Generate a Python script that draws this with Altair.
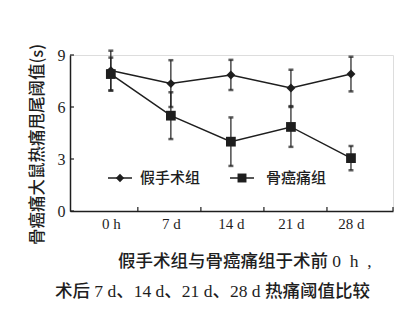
import json
import altair as alt
import pandas as pd

# ---- data ----
times = ["0 h", "7 d", "14 d", "21 d", "28 d"]
groups = ["假手术组", "骨癌痛组"]
shapes = ["diamond", "square"]
sham_mean = [8.1, 7.35, 7.85, 7.1, 7.9]
sham_err = [1.15, 1.35, 0.87, 1.05, 1.0]
cancer_mean = [7.9, 5.5, 4.0, 4.85, 3.05]
cancer_err = [0.95, 1.35, 1.4, 1.15, 0.7]
y_ticks = [0, 3, 6, 9]
x_tick_marks = [0.45, 1.5, 2.55, 3.6, 4.7]
y_title = "骨癌痛大鼠热痛甩尾阈值(s)"
caption_1 = "假手术组与骨癌痛组于术前 0\u2002h\u2002,"
caption_2 = "术后 7 d、14 d、21 d、28 d 热痛阈值比较"

rows = []
for g, means, errs in [(groups[0], sham_mean, sham_err), (groups[1], cancer_mean, cancer_err)]:
    for i, (t, m, e) in enumerate(zip(times, means, errs)):
        rows.append({"idx": i, "time": t, "group": g, "mean": m, "lo": m - e, "hi": m + e})
df = pd.DataFrame(rows)

W, H = 323, 156
INK = "#1e1e1e"
SERIF = "Liberation Serif"
CJK = "Noto Sans CJK SC"
MIXED = "Liberation Serif, Noto Sans CJK SC"

x_scale = alt.Scale(domain=[-0.68, 4.7], nice=False, zero=False)
y_scale = alt.Scale(domain=[0, 9], nice=False)
label_expr = json.dumps(times) + "[datum.value]"

x_enc = alt.X(
    "idx:Q", scale=x_scale,
    axis=alt.Axis(values=list(range(len(times))), labelExpr=label_expr, ticks=False, grid=False,
                  title=None, labelFont=SERIF, labelFontSize=15, labelColor=INK, labelPadding=5,
                  domainColor=INK, domainWidth=1.5, labelFlush=False),
)
y_enc = alt.Y(
    "mean:Q", scale=y_scale,
    axis=alt.Axis(values=y_ticks, ticks=False, grid=False, title=y_title, titleFont=CJK,
                  titleFontSize=16.5, titleFontWeight=500, titleColor=INK, titleAngle=-90,
                  titleX=-33, titleY=H / 2 + 11, titleAlign="center", titleBaseline="middle",
                  labelFont=SERIF, labelFontSize=16, labelColor=INK, labelPadding=5,
                  domainColor=INK, domainWidth=1.5),
)

base = alt.Chart(df)
lines = base.mark_line(color=INK, strokeWidth=1.5).encode(x=x_enc, y=y_enc, detail="group:N")
bars = base.mark_rule(color=INK, strokeWidth=1.2).encode(x="idx:Q", y="lo:Q", y2="hi:Q")
caps_lo = base.mark_tick(color=INK, orient="horizontal", size=5, thickness=2.5).encode(x="idx:Q", y="lo:Q")
caps_hi = base.mark_tick(color=INK, orient="horizontal", size=5, thickness=2.5).encode(x="idx:Q", y="hi:Q")
points = base.mark_point(filled=True, color=INK, opacity=1).encode(
    x="idx:Q", y="mean:Q",
    shape=alt.Shape("group:N", scale=alt.Scale(domain=groups, range=shapes), legend=None),
    size=alt.Size("group:N", scale=alt.Scale(domain=groups, range=[80, 95]), legend=None),
)

# ---- hand-built legend (line + marker + label) ----
legend_layers = []
legend_pos = [(50, 70), (172, 196)]  # (symbol centre x, label start x) in plot pixels
LEG_Y = 123
for g, shp, sz, (sx, lx) in zip(groups, shapes, [70, 80], legend_pos):
    gdf = pd.DataFrame({"group": [g]})
    legend_layers.append(alt.Chart(gdf).mark_rule(color=INK, strokeWidth=1.5).encode(
        x=alt.value(sx - 12), x2=alt.value(sx + 12), y=alt.value(LEG_Y)))
    legend_layers.append(alt.Chart(gdf).mark_point(filled=True, color=INK, opacity=1, shape=shp,
                                                   size=sz).encode(
        x=alt.value(sx), y=alt.value(LEG_Y)))
    legend_layers.append(alt.Chart(gdf).mark_text(font=CJK, fontSize=15, fontWeight=500, color=INK,
                                                  align="left", baseline="middle").encode(
        text="group:N", x=alt.value(lx), y=alt.value(LEG_Y)))

y_tick_df = pd.DataFrame({"v": y_ticks})
y_tick_layer = alt.Chart(y_tick_df).mark_rule(color=INK, strokeWidth=1.2).encode(
    y=alt.Y("v:Q", scale=y_scale), x=alt.value(0), x2=alt.value(4))
x_tick_df = pd.DataFrame({"v": x_tick_marks})
x_tick_layer = alt.Chart(x_tick_df).mark_rule(color=INK, strokeWidth=1.2).encode(
    x=alt.X("v:Q", scale=x_scale), y=alt.value(H), y2=alt.value(H - 4))

cap1 = alt.Chart(pd.DataFrame({"t": [caption_1]})).mark_text(
    font=MIXED, fontSize=17.5, fontWeight=500, color=INK, align="left", baseline="middle").encode(
    text="t:N", x=alt.value(48), y=alt.value(207))
cap2 = alt.Chart(pd.DataFrame({"t": [caption_2]})).mark_text(
    font=MIXED, fontSize=17.5, fontWeight=500, color=INK, align="left", baseline="middle").encode(
    text="t:N", x=alt.value(-15), y=alt.value(237))

chart = alt.layer(
    lines, bars, caps_lo, caps_hi, points, *legend_layers, y_tick_layer, x_tick_layer, cap1, cap2
).resolve_scale(size="independent").properties(
    width=W, height=H,
    autosize=alt.AutoSizeParams(type="none"),
    padding={"left": 70, "top": 55, "right": 15, "bottom": 108},
).configure_view(stroke=None).configure(background="white")

chart.save("out.html", embed_options={"renderer": "svg", "actions": False})
